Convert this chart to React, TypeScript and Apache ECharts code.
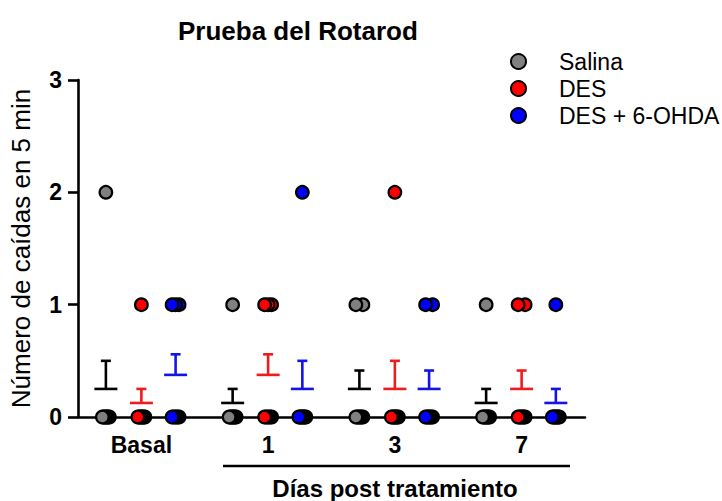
import React, { useEffect, useRef } from 'react';
import * as echarts from 'echarts';

// ---- data ----
const categories = ['Basal', '1', '3', '7'];
const seriesNames = ['Salina', 'DES', 'DES + 6-OHDA'];
const yTicks = [0, 1, 2, 3];
// individual falls per animal (n = 8 per group), one list per category
const salina = [
  [2, 0, 0, 0, 0, 0, 0, 0],
  [1, 0, 0, 0, 0, 0, 0, 0],
  [1, 1, 0, 0, 0, 0, 0, 0],
  [1, 0, 0, 0, 0, 0, 0, 0],
];
const des = [
  [1, 0, 0, 0, 0, 0, 0, 0],
  [1, 1, 1, 0, 0, 0, 0, 0],
  [2, 0, 0, 0, 0, 0, 0, 0],
  [1, 1, 0, 0, 0, 0, 0, 0],
];
const desOhda = [
  [1, 1, 1, 0, 0, 0, 0, 0],
  [2, 0, 0, 0, 0, 0, 0, 0],
  [1, 1, 0, 0, 0, 0, 0, 0],
  [1, 0, 0, 0, 0, 0, 0, 0],
];

// ---- styles ----
const FONT = '"Liberation Sans", Arial, Helvetica, sans-serif';
const fills = ['#808080', '#ff0000', '#0000ff'];
const barColors = ['#000000', '#ee1c1c', '#1414e6'];
const groupOffsets = [-0.28, 0, 0.27];

function mean(a: number[]) {
  return a.reduce((s, v) => s + v, 0) / a.length;
}
function sem(a: number[]) {
  const m = mean(a);
  const sd = Math.sqrt(a.reduce((s, v) => s + (v - m) * (v - m), 0) / (a.length - 1));
  return sd / Math.sqrt(a.length);
}

function pointItems(groups: number[][]) {
  const out: number[][] = [];
  groups.forEach((vals, c) => {
    const counts = new Map<number, number>();
    vals.forEach((v) => counts.set(v, (counts.get(v) || 0) + 1));
    Array.from(counts.keys())
      .sort((a, b) => b - a)
      .forEach((v) => {
        const n = counts.get(v) as number;
        for (let k = 0; k < n; k++) out.push([c, v, k, n]);
      });
  });
  return out;
}

function barItems(groups: number[][]) {
  return groups.map((vals, c) => {
    const m = mean(vals);
    return [c, m, m + sem(vals)];
  });
}

export default function App() {
  const ref = useRef<HTMLDivElement>(null);

  useEffect(() => {
    if (!ref.current) return;
    const chart = echarts.init(ref.current, undefined, { renderer: 'svg' });
    const all = [salina, des, desOhda];

    const pointSeries = all.map((groups, s) => ({
      name: seriesNames[s],
      type: 'custom',
      coordinateSystem: 'cartesian2d',
      clip: false,
      z: 5,
      itemStyle: { color: fills[s], borderColor: '#000', borderWidth: 2 },
      encode: { x: 0, y: 1 },
      data: pointItems(groups),
      renderItem: (params: any, api: any) => {
        const c = api.value(0);
        const v = api.value(1);
        const k = api.value(2);
        const n = api.value(3);
        const p = api.coord([c, v]);
        const band = api.size([1, 0])[0];
        const spread = n > 1 ? 7 : 0;
        const dx = n > 1 ? spread / 2 - (k * spread) / (n - 1) : 0;
        return {
          type: 'circle',
          shape: { cx: p[0] + groupOffsets[s] * band + dx, cy: p[1], r: 6.3 },
          style: { fill: fills[s], stroke: '#000', lineWidth: 2.2 },
        };
      },
    }));

    const barSeries = all.map((groups, s) => ({
      name: seriesNames[s] + ' SEM',
      type: 'custom',
      coordinateSystem: 'cartesian2d',
      clip: false,
      z: 4,
      encode: { x: 0, y: [1, 2] },
      data: barItems(groups),
      renderItem: (params: any, api: any) => {
        const c = api.value(0);
        const pm = api.coord([c, api.value(1)]);
        const pu = api.coord([c, api.value(2)]);
        const band = api.size([1, 0])[0];
        const x = pm[0] + groupOffsets[s] * band;
        const st = { stroke: barColors[s], lineWidth: 2.6 };
        return {
          type: 'group',
          children: [
            { type: 'line', shape: { x1: x - 11.5, y1: pm[1], x2: x + 11.5, y2: pm[1] }, style: st },
            { type: 'line', shape: { x1: x, y1: pm[1], x2: x, y2: pu[1] }, style: st },
            { type: 'line', shape: { x1: x - 5, y1: pu[1], x2: x + 5, y2: pu[1] }, style: st },
          ],
        };
      },
    }));

    chart.setOption({
      animation: false,
      backgroundColor: '#ffffff',
      textStyle: { fontFamily: FONT },
      title: {
        text: 'Prueba del Rotarod',
        left: 178,
        top: 18,
        padding: 0,
        textStyle: { fontFamily: FONT, fontSize: 26, fontWeight: 'bold', color: '#000' },
      },
      legend: {
        orient: 'vertical',
        left: 510,
        top: 50,
        padding: 0,
        itemWidth: 15,
        itemHeight: 15,
        itemGap: 4,
        selectedMode: false,
        textStyle: { fontFamily: FONT, fontSize: 23, color: '#000', padding: [0, 0, 0, 28] },
        data: seriesNames.map((n, i) => ({
          name: n,
          icon: 'circle',
          itemStyle: { color: fills[i], borderColor: '#000', borderWidth: 2 },
        })),
      },
      grid: { left: 75, right: 137, top: 80, bottom: 84, containLabel: false },
      xAxis: {
        type: 'category',
        data: categories,
        boundaryGap: true,
        axisLine: { show: true, lineStyle: { color: '#000', width: 2.6 } },
        axisTick: { show: false },
        axisLabel: {
          margin: 16,
          fontFamily: FONT,
          fontSize: 23,
          fontWeight: 'bold',
          color: '#000',
        },
        splitLine: { show: false },
      },
      yAxis: {
        type: 'value',
        min: yTicks[0],
        max: yTicks[yTicks.length - 1],
        interval: 1,
        name: 'Número de caídas en 5 min',
        nameLocation: 'middle',
        nameRotate: 90,
        nameGap: 44,
        nameTextStyle: { fontFamily: FONT, fontSize: 26, color: '#000' },
        axisLine: { show: true, lineStyle: { color: '#000', width: 2.6 } },
        axisTick: { show: true, length: 10, lineStyle: { color: '#000', width: 2.6 } },
        axisLabel: {
          margin: 16,
          fontFamily: FONT,
          fontSize: 23,
          fontWeight: 'bold',
          color: '#000',
        },
        splitLine: { show: false },
      },
      graphic: [
        {
          type: 'line',
          shape: { x1: 223, y1: 466, x2: 570, y2: 466 },
          style: { stroke: '#000', lineWidth: 2.6 },
        },
        {
          type: 'text',
          x: 395,
          y: 488,
          style: {
            text: 'Días post tratamiento',
            fontFamily: FONT,
            fontSize: 24,
            fontWeight: 'bold',
            fill: '#000',
            align: 'center',
            verticalAlign: 'middle',
          },
        },
      ],
      series: [...barSeries, ...pointSeries],
    });

    return () => chart.dispose();
  }, []);

  return (
    <div
      ref={ref}
      style={{ position: 'fixed', left: 0, top: 0, width: 722, height: 501, background: '#fff' }}
    />
  );
}
